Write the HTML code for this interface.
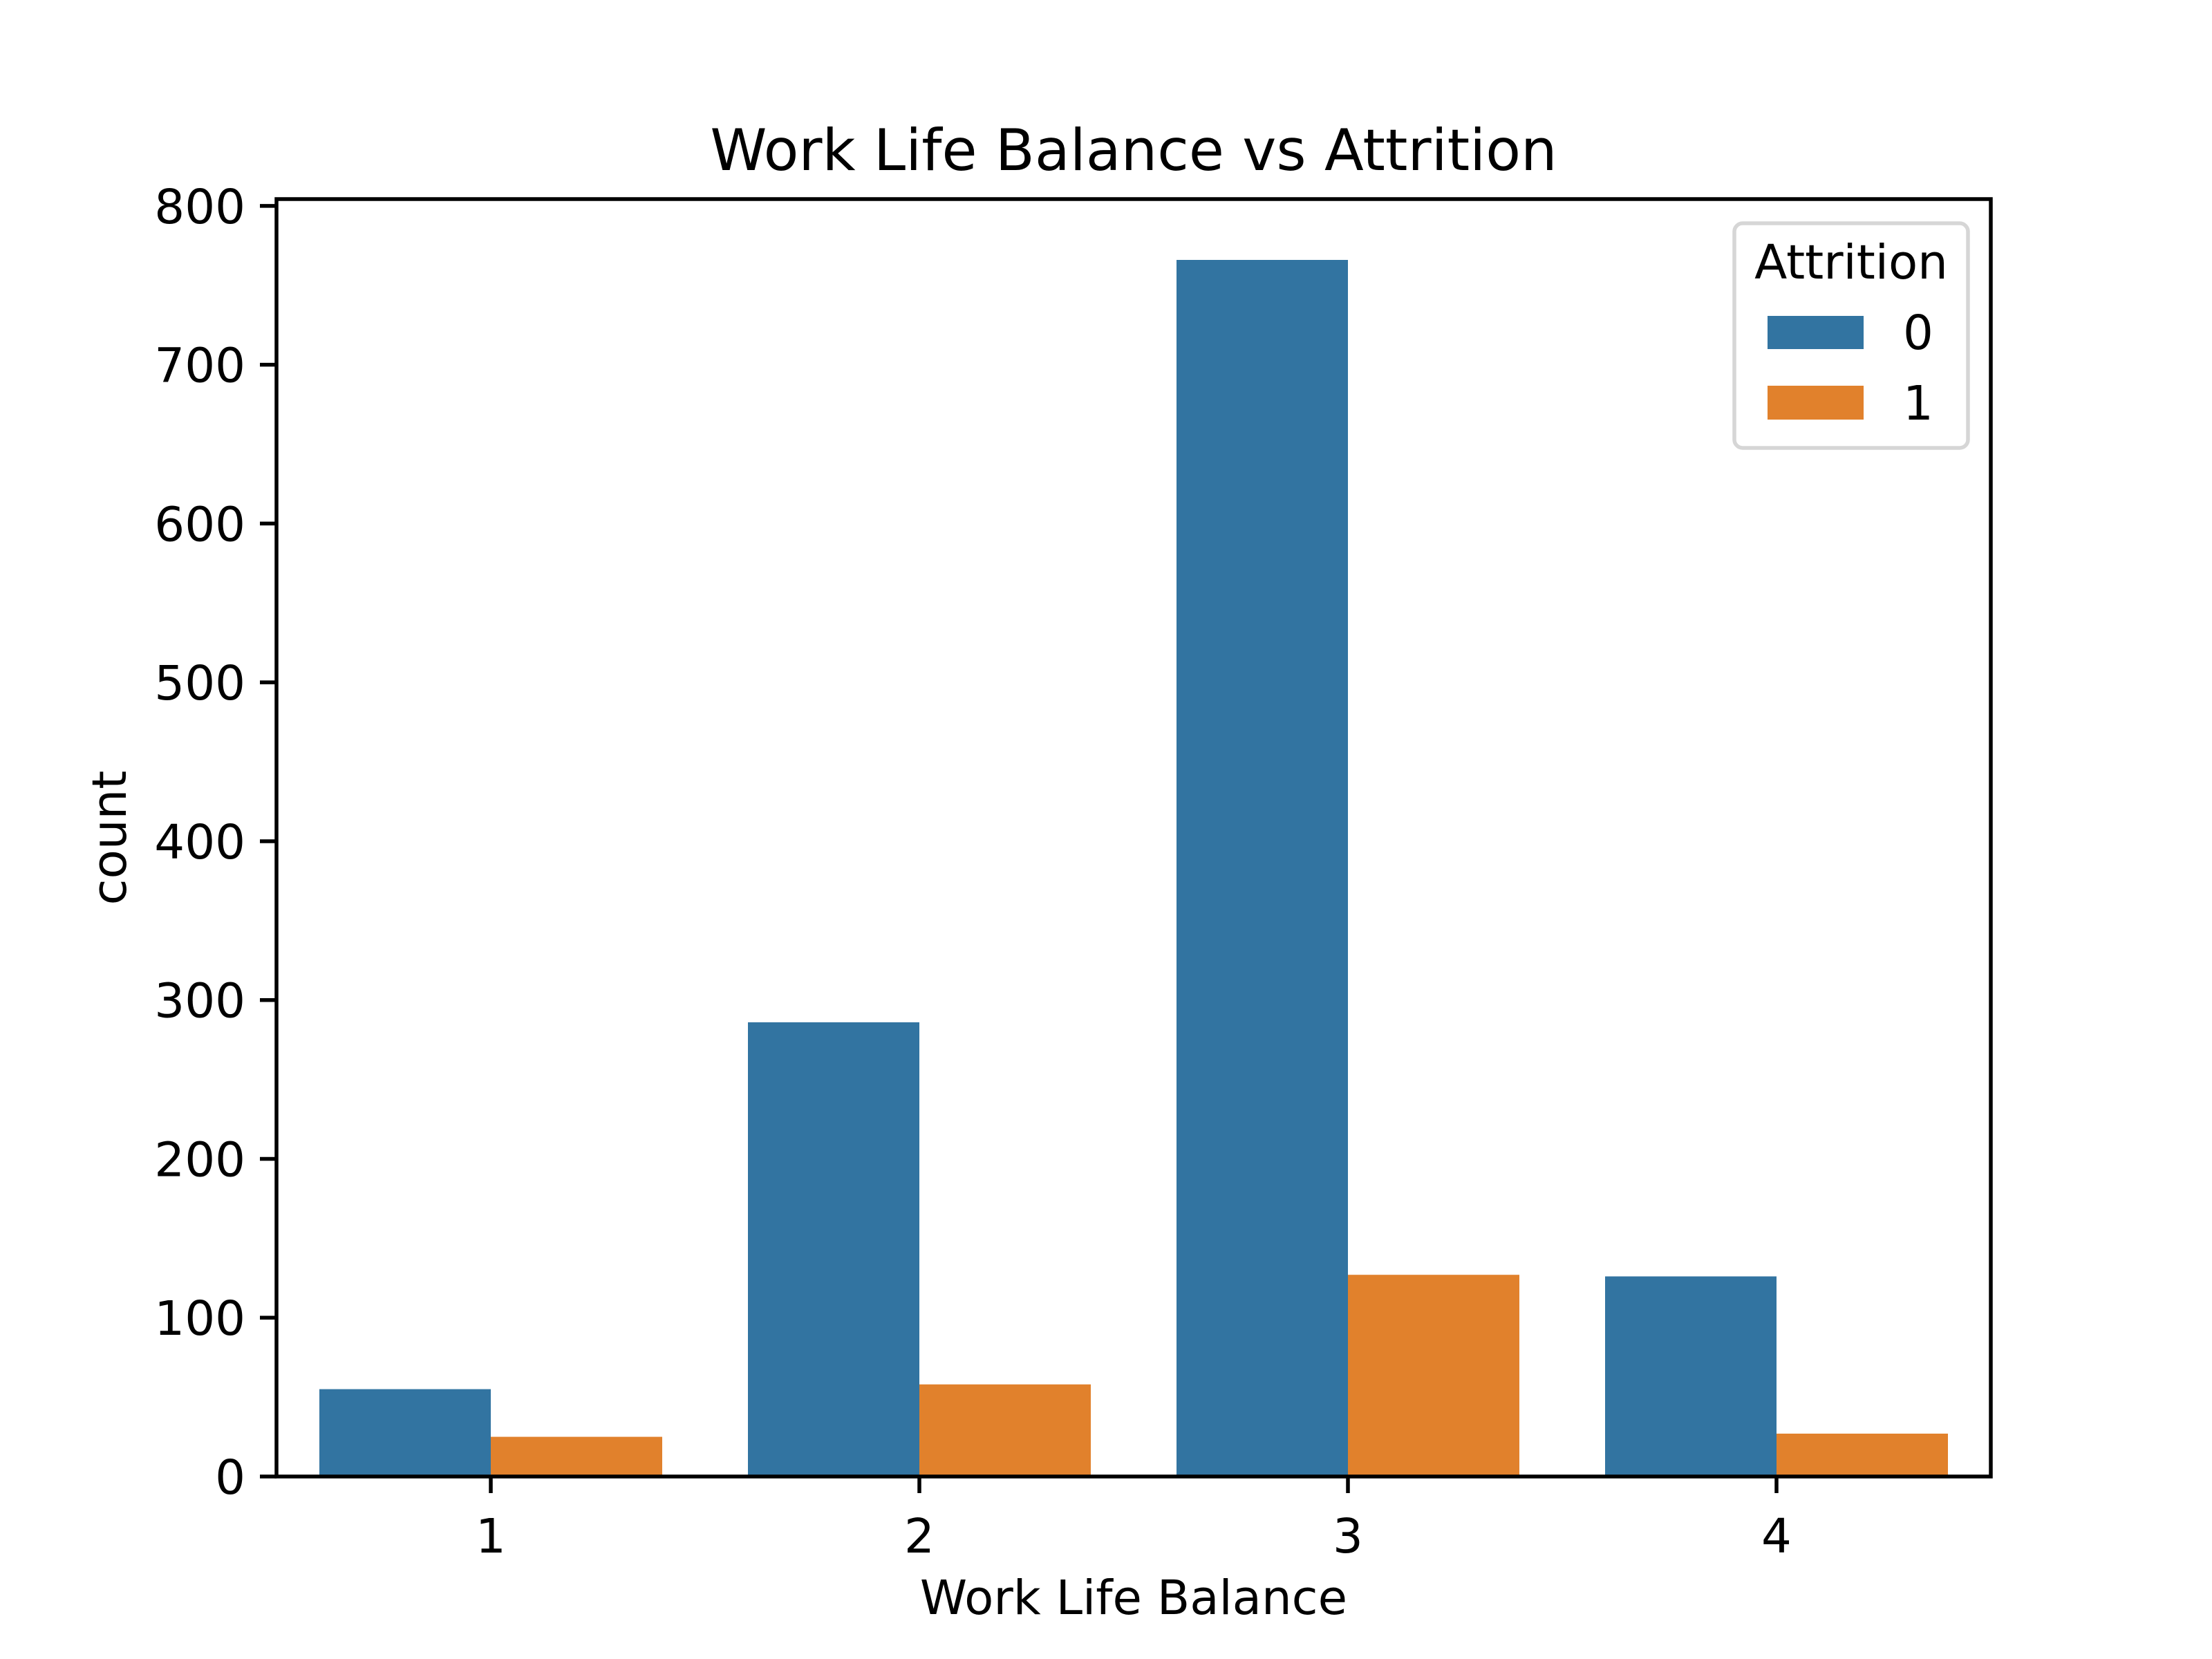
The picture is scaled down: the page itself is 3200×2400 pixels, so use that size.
<!DOCTYPE html>
<html><head><meta charset="utf-8"><style>html,body{margin:0;padding:0;background:#fff}svg{display:block}text{font-family:"DejaVu Sans","Liberation Sans",sans-serif;fill:#000}</style></head>
<body>
<svg id="chart" width="3200" height="2400" viewBox="0 0 3200 2400" xmlns="http://www.w3.org/2000/svg">
<rect width="3200" height="2400" fill="#fff"/>
<text x="1640" y="246" font-size="83" text-anchor="middle">Work Life Balance vs Attrition</text>
<g id="bars"></g>
<g id="yticks"></g>
<g id="xticks"></g>
<rect x="400" y="288" width="2480" height="1848" fill="none" stroke="#000" stroke-width="5.5"/>
<text x="1640" y="2335" font-size="69" text-anchor="middle">Work Life Balance</text>
<text x="0" y="0" font-size="69" text-anchor="middle" transform="translate(182,1212) rotate(-90)">count</text>
<g>
<rect x="2509" y="323" width="338" height="325" rx="12" fill="#fff" fill-opacity="0.8" stroke="#d6d6d6" stroke-width="5.5"/>
<text x="2678" y="403" font-size="69" text-anchor="middle">Attrition</text>
<rect x="2557" y="457" width="139" height="48" fill="#3274a1"/>
<text x="2775" y="505" font-size="69" text-anchor="middle">0</text>
<rect x="2557" y="558" width="139" height="49" fill="#e1812c"/>
<text x="2775" y="607" font-size="69" text-anchor="middle">1</text>
</g>
</svg>
<script>
const categories = ["1", "2", "3", "4"];
const attrition0 = [55, 286, 766, 126];
const attrition1 = [25, 58, 127, 27];
const yTicks = [0, 100, 200, 300, 400, 500, 600, 700, 800];
const seriesNames = ["0", "1"];
const NS = "http://www.w3.org/2000/svg";
const L = 400, R = 2880, T = 288, B = 2136;
const yMax = Math.max(...attrition0, ...attrition1) * 1.05;
function xs(v) { return L + (v + 0.5) / categories.length * (R - L); }
function ys(v) { return B - v / yMax * (B - T); }
function el(tag, attrs, parent) { const e = document.createElementNS(NS, tag); for (const k in attrs) e.setAttribute(k, attrs[k]); parent.appendChild(e); return e; }
const bars = document.getElementById("bars");
const series = [attrition0, attrition1];
const colors = ["#3274a1", "#e1812c"];
series.forEach((s, si) => {
  s.forEach((v, i) => {
    const x0 = xs(i - 0.4 + si * 0.4), x1 = xs(i - 0.4 + (si + 1) * 0.4);
    const r = el("rect", {x: x0, y: ys(v), width: x1 - x0, height: ys(0) - ys(v), fill: colors[si]}, bars);
    
    
  });
});
const yg = document.getElementById("yticks");
yTicks.forEach(t => {
  const y = ys(t);
  const ln = el("line", {x1: L - 24, x2: L, y1: y, y2: y, stroke: "#000", "stroke-width": 5.5}, yg);
  
  
  const tx = el("text", {x: L - 45, y: y + 25, "font-size": 69, "text-anchor": "end"}, yg);
  tx.textContent = t;
  
  
});
const xg = document.getElementById("xticks");
categories.forEach((c, i) => {
  const x = xs(i);
  const ln = el("line", {x1: x, x2: x, y1: B, y2: B + 24, stroke: "#000", "stroke-width": 5.5}, xg);
  
  
  const tx = el("text", {x: x, y: B + 110, "font-size": 69, "text-anchor": "middle"}, xg);
  tx.textContent = c;
  
  
});
</script>
</body></html>
